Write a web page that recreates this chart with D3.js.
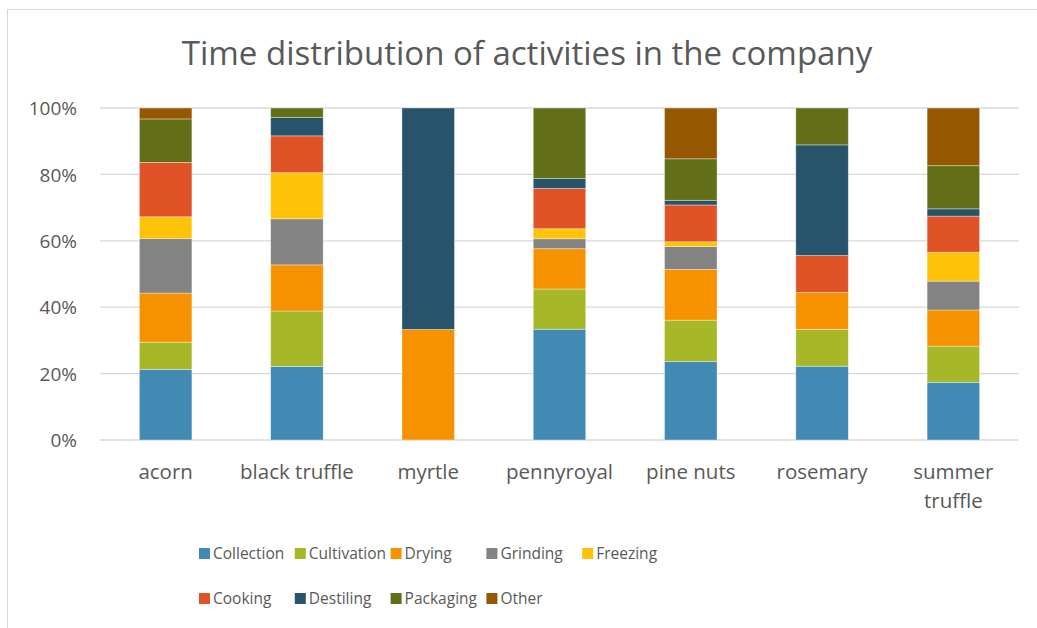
<!DOCTYPE html>
<html>
<head>
<meta charset="utf-8">
<script src="https://cdn.jsdelivr.net/npm/d3@7"></script>
<style>
  html, body { margin: 0; padding: 0; background: #fff; }
  svg { display: block; }
  text { font-family: "Open Sans", sans-serif; fill: #595959; }
</style>
</head>
<body>
<svg id="chart" width="1037" height="628"></svg>
<script>
// Products (x categories)
const categories = ["acorn", "black truffle", "myrtle", "pennyroyal", "pine nuts", "rosemary", "summer truffle"];

// Share of time per activity (%), one array per activity, in category order
const collection  = [21.3, 22.2,  0.0, 33.3, 23.6, 22.2, 17.4];
const cultivation = [ 8.2, 16.7,  0.0, 12.1, 12.5, 11.1, 10.9];
const drying      = [14.8, 13.9, 33.3, 12.1, 15.3, 11.1, 10.9];
const grinding    = [16.4, 13.9,  0.0,  3.0,  6.9,  0.0,  8.7];
const freezing    = [ 6.6, 13.9,  0.0,  3.0,  1.4,  0.0,  8.7];
const cooking     = [16.4, 11.1,  0.0, 12.1, 11.1, 11.1, 10.9];
const destiling   = [ 0.0,  5.6, 66.7,  3.0,  1.4, 33.3,  2.2];
const packaging   = [13.1,  2.8,  0.0, 21.2, 12.5, 11.1, 13.0];
const other       = [ 3.3,  0.0,  0.0,  0.0, 15.3,  0.0, 17.4];

const seriesNames = ["Collection", "Cultivation", "Drying", "Grinding", "Freezing", "Cooking", "Destiling", "Packaging", "Other"];
const seriesValues = [collection, cultivation, drying, grinding, freezing, cooking, destiling, packaging, other];
const seriesColors = ["#418AB3", "#A6B727", "#F69200", "#838383", "#FEC306", "#DF5327", "#27536B", "#636F17", "#955800"];

const yTicks = [0, 0.2, 0.4, 0.6, 0.8, 1.0];

const svg = d3.select("#chart");

// Chart area frame
svg.append("rect")
  .attr("x", 7.5).attr("y", 9.5)
  .attr("width", 1100).attr("height", 700)
  .attr("fill", "none").attr("stroke", "#d9d9d9").attr("stroke-width", 1);

// Title
svg.append("text")
  .attr("x", 527).attr("y", 65)
  .attr("text-anchor", "middle")
  .style("font-size", "33px")
  .text("Time distribution of activities in the company");

// Table rows for the stack
const rows = categories.map((c, i) => {
  const r = { category: c };
  seriesNames.forEach((s, j) => { r[s] = seriesValues[j][i]; });
  return r;
});

const stacked = d3.stack()
  .keys(seriesNames)
  .offset(d3.stackOffsetExpand)(rows);

const x = d3.scaleBand()
  .domain(categories)
  .range([100, 1019])
  .paddingInner(0.6)
  .paddingOuter(0.3);

const y = d3.scaleLinear()
  .domain([0, 1])
  .range([440, 108]);

// Gridlines
svg.append("g")
  .selectAll("line")
  .data(yTicks)
  .join("line")
  .attr("x1", 100).attr("x2", 1019)
  .attr("y1", d => y(d)).attr("y2", d => y(d))
  .attr("stroke", "#d9d9d9").attr("stroke-width", 1.3);

// Y axis labels
const yAxis = d3.axisLeft(y)
  .tickValues(yTicks)
  .tickFormat(d3.format(".0%"))
  .tickSize(0)
  .tickPadding(0);

const gy = svg.append("g")
  .attr("transform", "translate(77,0)")
  .call(yAxis);
gy.select(".domain").remove();
gy.selectAll("text")
  .attr("dy", "0.35em")
  .style("font-family", "'Open Sans', sans-serif")
  .style("font-size", "19px")
  .style("fill", "#595959");

// Stacked bars
svg.append("g")
  .selectAll("g")
  .data(stacked)
  .join("g")
  .attr("fill", (d, i) => seriesColors[i])
  .selectAll("rect")
  .data(d => d)
  .join("rect")
  .attr("x", d => x(d.data.category))
  .attr("width", x.bandwidth())
  .attr("y", d => y(d[1]))
  .attr("height", d => Math.max(0, y(d[0]) - y(d[1])))
  .attr("stroke", "#ffffff")
  .attr("stroke-opacity", 0.45)
  .attr("stroke-width", 0.8);

// X axis labels (wrapped to fit the category width)
const xAxis = d3.axisBottom(x).tickSize(0).tickPadding(0);
const gx = svg.append("g")
  .attr("transform", "translate(0,440)")
  .call(xAxis);
gx.select(".domain").remove();
gx.selectAll("text").remove();
gx.selectAll(".tick").each(function (d) {
  const lines = d === "summer truffle" ? ["summer", "truffle"] : [d];
  const t = d3.select(this).append("text")
    .attr("text-anchor", "middle")
    .style("font-size", "20.5px")
    .style("fill", "#595959");
  lines.forEach((ln, k) => {
    t.append("tspan").attr("x", 0).attr("y", 39 + k * 29).text(ln);
  });
});

// Legend
const legend = svg.append("g");
const legendItems = legend.selectAll("g")
  .data(seriesNames)
  .join("g")
  .attr("transform", (d, i) => {
    const col = i % 5, row = Math.floor(i / 5);
    return `translate(${199 + col * 95.8},${553.5 + row * 45})`;
  });
legendItems.append("rect")
  .attr("x", 0).attr("y", -5.5)
  .attr("width", 11).attr("height", 11)
  .attr("fill", (d, i) => seriesColors[i]);
legendItems.append("text")
  .attr("x", 14).attr("y", 0)
  .attr("dy", "0.35em")
  .style("font-size", "15.5px")
  .text(d => d);
</script>
</body>
</html>
